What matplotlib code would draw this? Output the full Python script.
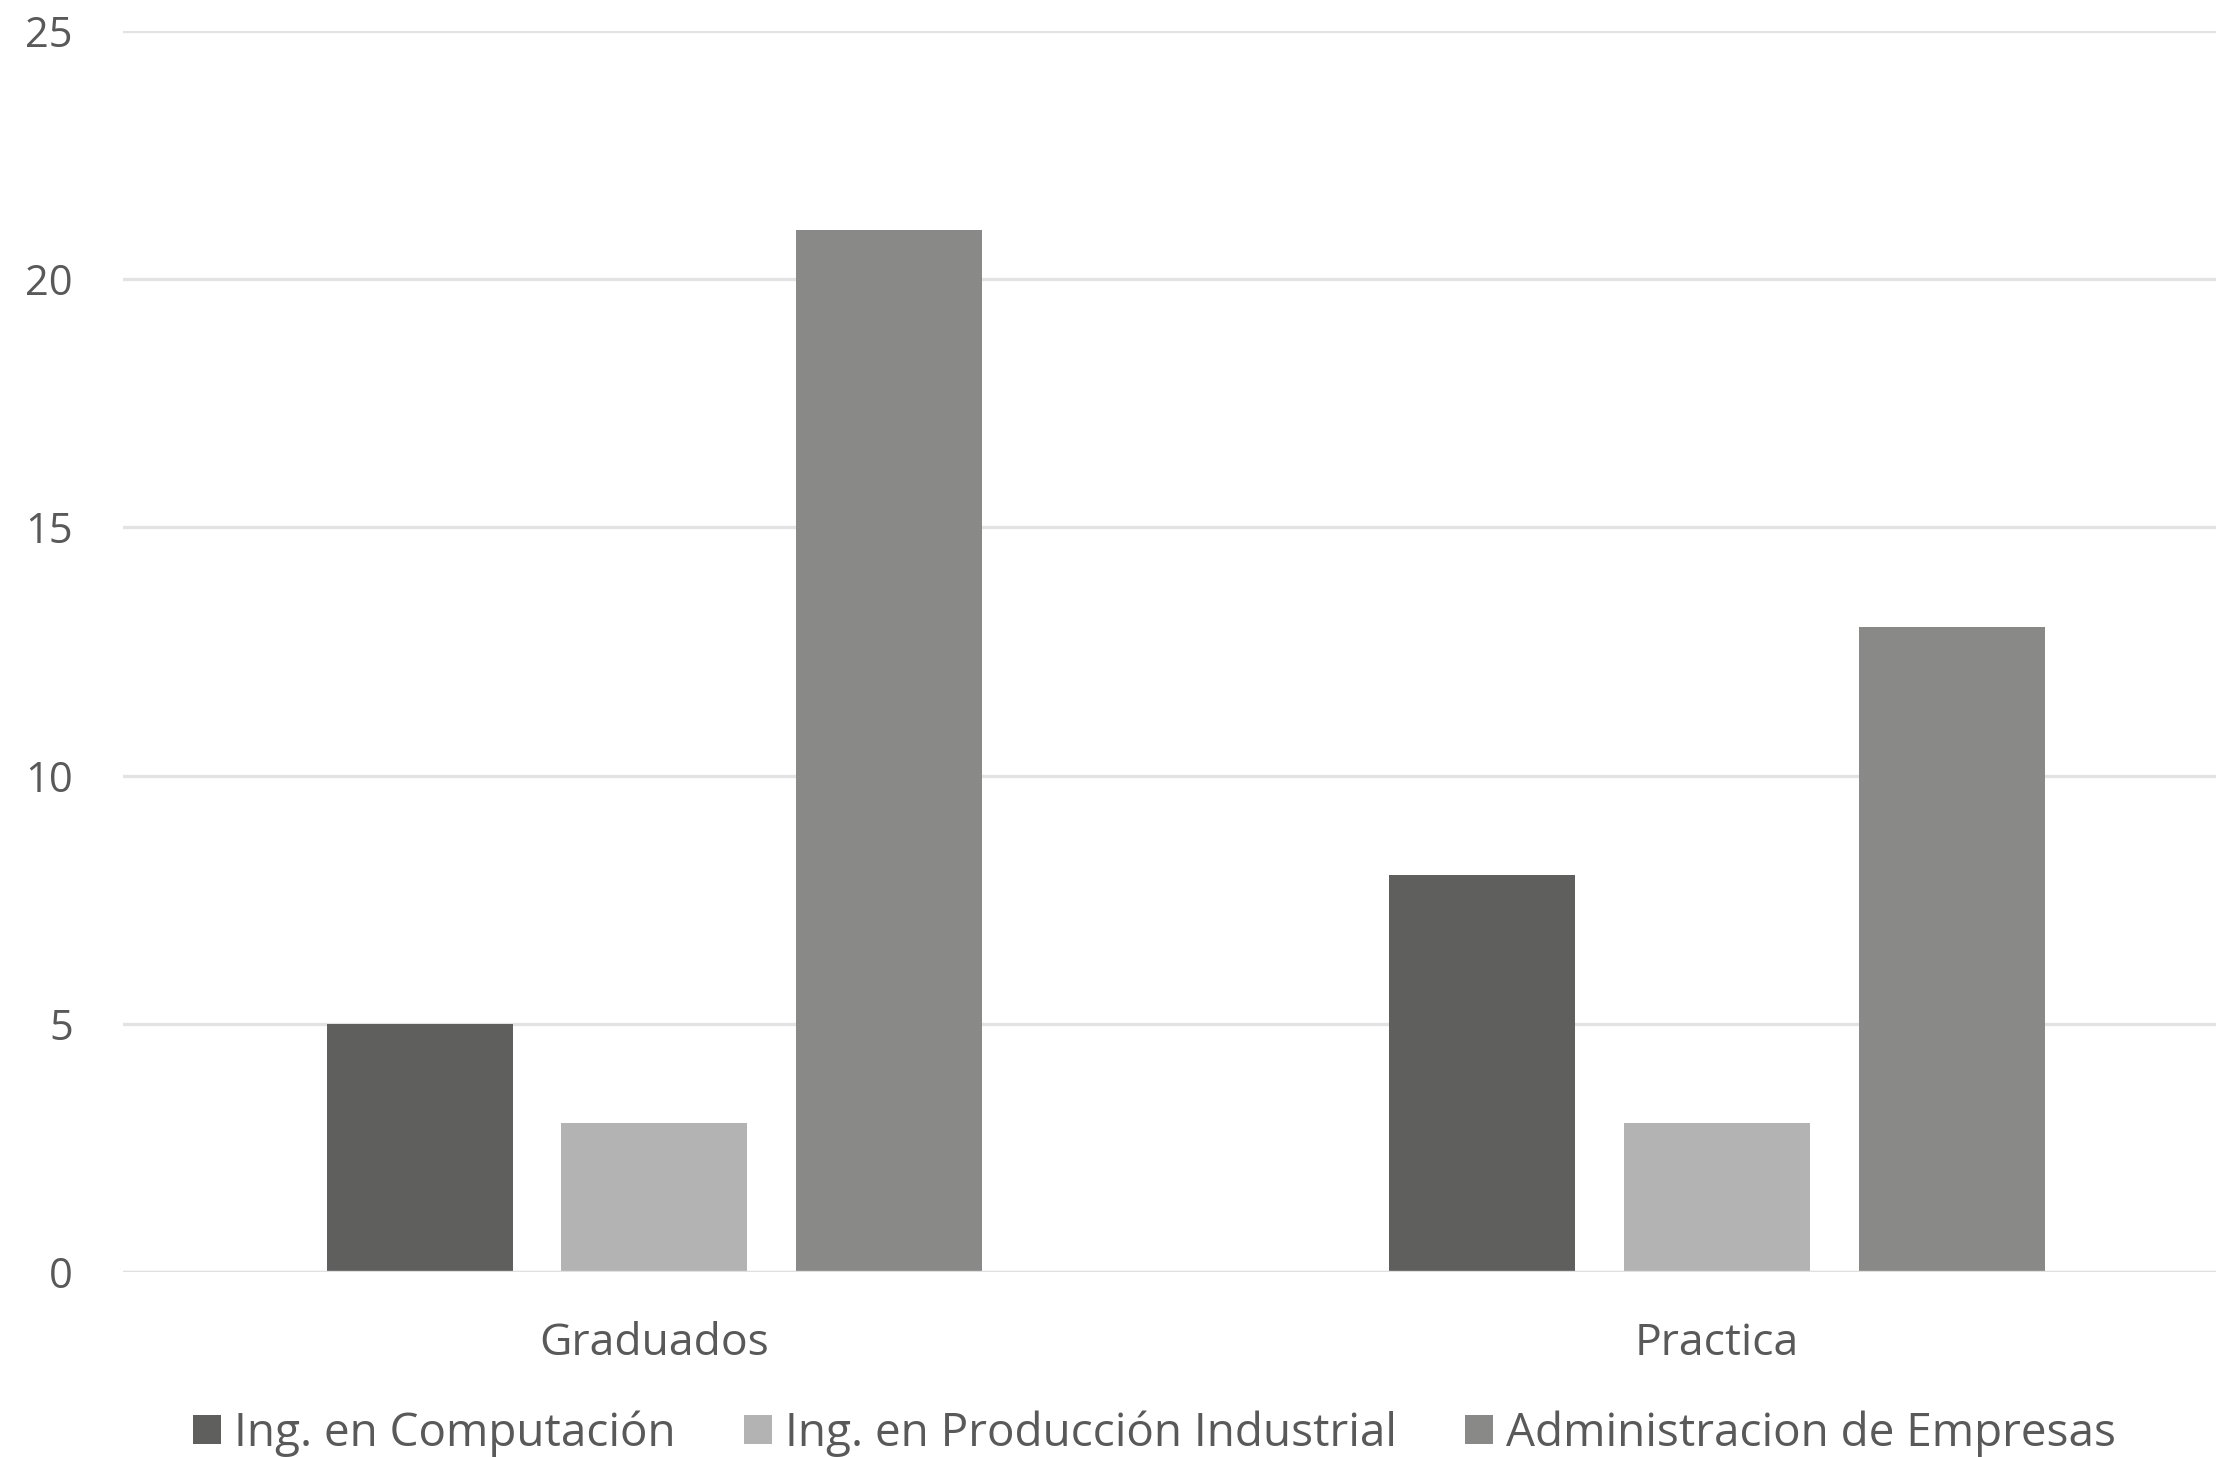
import matplotlib
matplotlib.use("Agg")
import matplotlib.pyplot as plt
import numpy as np

categories = ["Graduados", "Practica"]
series_names = ["Ing. en Computación", "Ing. en Producción Industrial", "Administracion de Empresas"]
computacion = [5, 8]
produccion = [3, 3]
administracion = [21, 13]
y_ticks = [0, 5, 10, 15, 20, 25]

colors = ["#5f5f5d", "#b3b3b3", "#898a88"]
text_color = "#595959"

plt.rcParams['font.family'] = ['Open Sans', 'DejaVu Sans']

fig = plt.figure(figsize=(11.08, 7.285), dpi=200)
ax = fig.add_axes([0.0555, 0.127, 1.0147 - 0.0555, 0.9787 - 0.127])

x = np.arange(len(categories))
width = 0.175
offset = 0.221
values = [computacion, produccion, administracion]
for i, (name, vals) in enumerate(zip(series_names, values)):
    ax.bar(x + (i - 1) * offset, vals, width, color=colors[i], label=name, zorder=2)

ax.set_xlim(-0.5, 1.5)
ax.set_ylim(0, 25)
ax.set_yticks(y_ticks)
ax.set_xticks(x)
ax.set_xticklabels(categories)
ax.yaxis.grid(True, color="#e3e3e3", linewidth=1.2, zorder=0)
ax.set_axisbelow(True)
# baseline sits on top of the bars
ax.axhline(0, color="#e0e0e0", linewidth=1.2, zorder=3)
for s in ax.spines.values():
    s.set_visible(False)
ax.tick_params(axis='both', length=0, colors=text_color)
ax.tick_params(axis='y', pad=18, labelsize=15)
ax.tick_params(axis='x', pad=18, labelsize=16)

leg = fig.legend(loc='center', bbox_to_anchor=(0.521, 0.016), ncol=3, frameon=False,
                 fontsize=16.5, handlelength=0.61, handleheight=0.61,
                 handletextpad=0.28, columnspacing=1.5, borderaxespad=0)
for t in leg.get_texts():
    t.set_color(text_color)

fig.savefig("out.png", dpi=200)
